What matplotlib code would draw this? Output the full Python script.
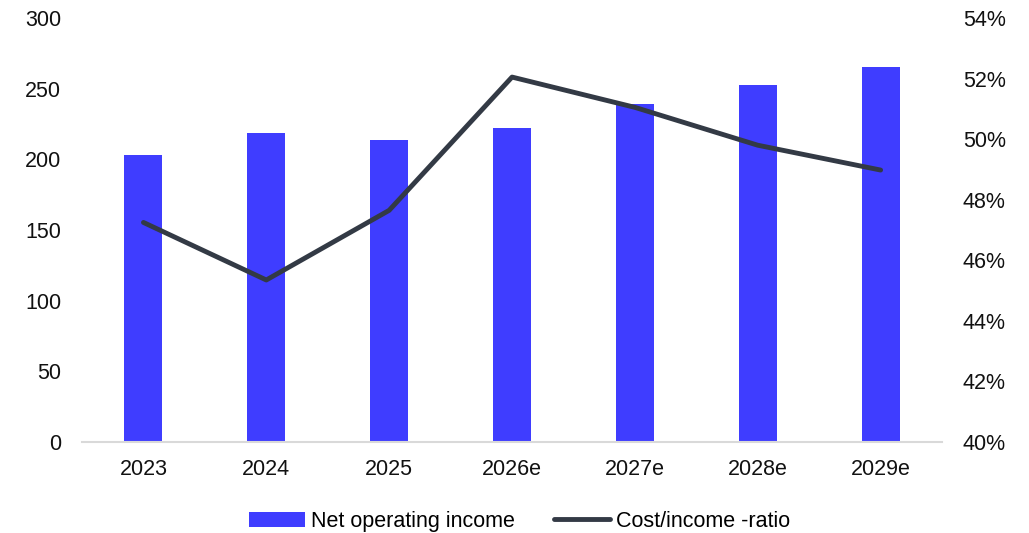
import numpy as np
import matplotlib
matplotlib.use("Agg")
import matplotlib.pyplot as plt
from matplotlib.ticker import FuncFormatter

plt.rcParams['font.family'] = ['Liberation Sans', 'DejaVu Sans']

years = ['2023', '2024', '2025', '2026e', '2027e', '2028e', '2029e']
net_operating_income = [203, 218.5, 213.5, 222, 239, 252.5, 265]
cost_income_ratio = [47.25, 45.35, 47.65, 52.05, 51.05, 49.8, 48.98]

bar_color = '#3f3dff'
line_color = '#333a45'

fig = plt.figure(figsize=(10.29, 5.33), dpi=100)
ax = fig.add_axes([0.0797, 0.1707, 0.8358, 0.7955])
ax2 = ax.twinx()

x = np.arange(len(years))
bars = ax.bar(x, net_operating_income, width=0.31, color=bar_color,
              label='Net operating income', zorder=2)
line, = ax2.plot(x, cost_income_ratio, color=line_color, linewidth=3.5,
                 solid_capstyle='round', solid_joinstyle='round',
                 label='Cost/income -ratio', zorder=3)

ax.set_xlim(-0.5, 6.5)
ax.set_ylim(0, 300)
ax.set_yticks(range(0, 301, 50))
ax2.set_ylim(40, 54)
ax2.set_yticks(range(40, 55, 2))
ax2.yaxis.set_major_formatter(FuncFormatter(lambda v, p: f'{v:.0f}%'))

ax.set_xticks(x)
ax.set_xticklabels(years)

for a in (ax, ax2):
    for s in ('top', 'right', 'left', 'bottom'):
        a.spines[s].set_visible(False)
    a.tick_params(length=0, labelsize=15.5, colors='#111111')
ax.spines['bottom'].set_visible(True)
ax.spines['bottom'].set_color('#d9d9d9')
ax.spines['bottom'].set_linewidth(1.5)
ax.tick_params(axis='x', pad=12)
ax.tick_params(axis='y', pad=15)
ax2.tick_params(axis='y', pad=15)
ax2.patch.set_visible(False)

fig.legend([bars, line], ['Net operating income', 'Cost/income -ratio'],
           loc='center', bbox_to_anchor=(0.505, 0.022), ncol=2, frameon=False,
           fontsize=15.5, handlelength=2.6, handletextpad=0.3, columnspacing=1.8)

fig.savefig('out.png', dpi=100)
